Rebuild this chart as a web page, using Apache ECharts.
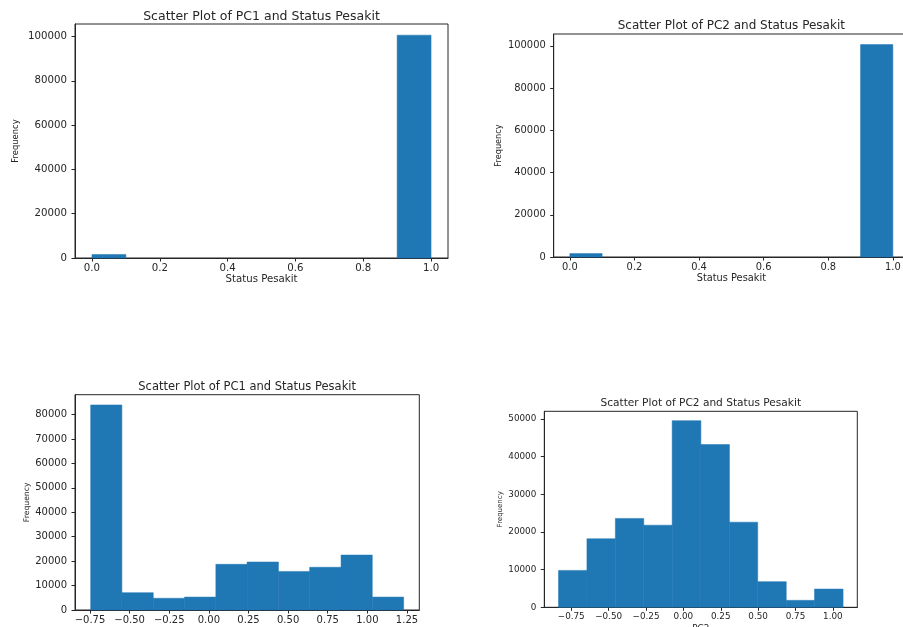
<!DOCTYPE html>
<html>
<head>
<meta charset="utf-8">
<script src="https://cdn.jsdelivr.net/npm/echarts@6/dist/echarts.min.js"></script>
<style>
  html, body { margin: 0; padding: 0; background: #ffffff; }
  #chart { width: 903px; height: 627px; }
</style>
</head>
<body>
<div id="chart"></div>
<script>
// Histogram of "Status Pesakit" (10 bins on [0, 1])
const statusEdges = [0.0, 0.1, 0.2, 0.3, 0.4, 0.5, 0.6, 0.7, 0.8, 0.9, 1.0];
const statusCounts = [1600, 0, 0, 0, 0, 0, 0, 0, 0, 100600];

// Histogram of PC1
const pc1Edges = [-0.746, -0.549, -0.351, -0.154, 0.044, 0.241, 0.439, 0.636, 0.834, 1.031, 1.229];
const pc1Counts = [83950, 7100, 4800, 5300, 18700, 19650, 15800, 17500, 22500, 5300];

// Histogram of PC2
const pc2Edges = [-0.835, -0.645, -0.455, -0.265, -0.075, 0.117, 0.308, 0.497, 0.688, 0.877, 1.068];
const pc2Counts = [9800, 18200, 23600, 21800, 49560, 43200, 22600, 6800, 1850, 4850];

// Tick values
const statusXTicks = [0.0, 0.2, 0.4, 0.6, 0.8, 1.0];
const statusYTicks = [0, 20000, 40000, 60000, 80000, 100000];
const pc1XTicks = [-0.75, -0.5, -0.25, 0.0, 0.25, 0.5, 0.75, 1.0, 1.25];
const pc1YTicks = [0, 10000, 20000, 30000, 40000, 50000, 60000, 70000, 80000];
const pc2XTicks = [-0.75, -0.5, -0.25, 0.0, 0.25, 0.5, 0.75, 1.0];
const pc2YTicks = [0, 10000, 20000, 30000, 40000, 50000];

const titles = [
  'Scatter Plot of PC1 and Status Pesakit',
  'Scatter Plot of PC2 and Status Pesakit',
  'Scatter Plot of PC1 and Status Pesakit',
  'Scatter Plot of PC2 and Status Pesakit'
];

const FONT = 'DejaVu Sans';
const INK = '#262626';
const BAR = '#1f77b4';

// Panel boxes in pixels
const panels = [
  { left: 75,    top: 24,    width: 373,   height: 234,   edges: statusEdges, counts: statusCounts,
    xTicks: statusXTicks, yTicks: statusYTicks, digits: 1, xName: 'Status Pesakit',
    titleSize: 12.5, tickSize: 10.2, yNameSize: 8.4, xNameSize: 10.2, yNameGap: 55, xNameGap: 16 },
  { left: 553.7, top: 34,    width: 355.3, height: 223,   edges: statusEdges, counts: statusCounts,
    xTicks: statusXTicks, yTicks: statusYTicks, digits: 1, xName: 'Status Pesakit',
    titleSize: 12, tickSize: 9.9, yNameSize: 8.2, xNameSize: 9.8, yNameGap: 51, xNameGap: 16 },
  { left: 75,    top: 394.7, width: 344.3, height: 215.3, edges: pc1Edges, counts: pc1Counts,
    xTicks: pc1XTicks, yTicks: pc1YTicks, digits: 2, xName: 'PC1',
    titleSize: 11.5, tickSize: 10, yNameSize: 7.7, xNameSize: 9.5, yNameGap: 44, xNameGap: 20 },
  { left: 544.3, top: 411.3, width: 313,   height: 196,   edges: pc2Edges, counts: pc2Counts,
    xTicks: pc2XTicks, yTicks: pc2YTicks, digits: 2, xName: 'PC2',
    titleSize: 10.6, tickSize: 8.8, yNameSize: 7, xNameSize: 8.8, yNameGap: 41, xNameGap: 17 }
];

function fmt(v, digits) {
  return v.toFixed(digits).replace('-', '\u2212');
}

const grid = [], xAxis = [], yAxis = [], series = [], title = [];

panels.forEach((p, i) => {
  const lo = p.edges[0], hi = p.edges[p.edges.length - 1];
  const pad = (hi - lo) * 0.05;
  const yMax = Math.max(...p.counts) * 1.05;

  grid.push({
    left: p.left, top: p.top, width: p.width, height: p.height,
    show: true, borderColor: INK, borderWidth: 1, backgroundColor: 'transparent',
    containLabel: false, outerBoundsMode: 'none'
  });

  title.push({
    text: titles[i],
    left: p.left + p.width / 2,
    top: p.top - p.titleSize * 0.5 - 9,
    textAlign: 'center',
    padding: 0,
    textStyle: { fontFamily: FONT, fontSize: p.titleSize, fontWeight: 'normal', color: INK,
                 lineHeight: p.titleSize * 1.2 }
  });

  xAxis.push({
    type: 'value', gridIndex: i, min: lo - pad, max: hi + pad,
    splitLine: { show: false },
    axisLine: { show: true, onZero: false, lineStyle: { color: INK, width: 1 } },
    axisTick: { show: true, length: 3.5, lineStyle: { color: INK, width: 1 }, customValues: p.xTicks },
    axisLabel: { customValues: p.xTicks, fontFamily: FONT, fontSize: p.tickSize, color: INK, margin: 5,
                 formatter: v => fmt(v, p.digits) },
    name: p.xName, nameLocation: 'middle', nameGap: p.xNameGap, nameMoveOverlap: false,
    nameTextStyle: { fontFamily: FONT, fontSize: p.xNameSize, color: INK }
  });

  yAxis.push({
    type: 'value', gridIndex: i, min: 0, max: yMax,
    splitLine: { show: false },
    axisLine: { show: true, onZero: false, lineStyle: { color: INK, width: 1 } },
    axisTick: { show: true, length: 3.5, lineStyle: { color: INK, width: 1 }, customValues: p.yTicks },
    axisLabel: { customValues: p.yTicks, fontFamily: FONT, fontSize: p.tickSize, color: INK, margin: 8,
                 formatter: v => String(v) },
    name: 'Frequency', nameLocation: 'middle', nameRotate: 90, nameGap: p.yNameGap, nameMoveOverlap: false,
    nameTextStyle: { fontFamily: FONT, fontSize: p.yNameSize, color: INK }
  });

  // one rectangle per histogram bin: [left edge, right edge, count]
  const bins = p.counts.map((c, k) => [p.edges[k], p.edges[k + 1], c]).filter(b => b[2] > 0);
  series.push({
    type: 'custom', xAxisIndex: i, yAxisIndex: i,
    encode: { x: [0, 1], y: 2 },
    data: bins,
    silent: true,
    renderItem: (params, api) => {
      const a = api.coord([api.value(0), api.value(2)]);
      const b = api.coord([api.value(1), 0]);
      return {
        type: 'rect',
        shape: { x: a[0], y: a[1], width: b[0] - a[0], height: b[1] - a[1] },
        style: { fill: BAR, stroke: BAR, lineWidth: 0.5 }
      };
    }
  });
});

const chart = echarts.init(document.getElementById('chart'), null, { renderer: 'canvas' });
chart.setOption({
  animation: false,
  backgroundColor: '#ffffff',
  textStyle: { fontFamily: FONT },
  title, grid, xAxis, yAxis, series
});
</script>
</body>
</html>
